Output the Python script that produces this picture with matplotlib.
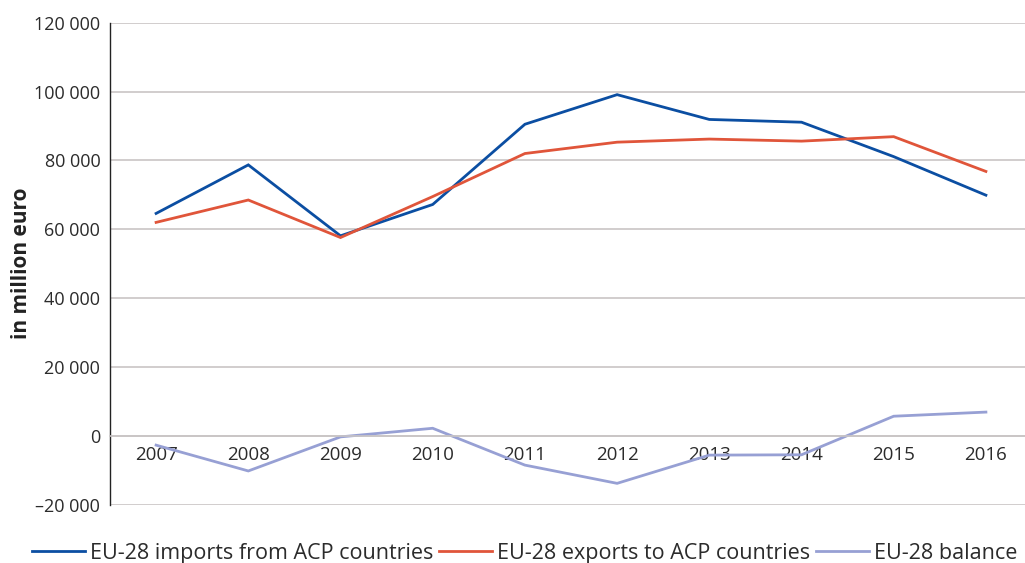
import matplotlib
matplotlib.use("Agg")
import matplotlib.pyplot as plt
from matplotlib.ticker import FuncFormatter

years = ["2007", "2008", "2009", "2010", "2011", "2012", "2013", "2014", "2015", "2016"]
imports = [64600, 78700, 58100, 67200, 90500, 99100, 91900, 91100, 81100, 69900]
exports = [62000, 68500, 57600, 69500, 82000, 85300, 86200, 85600, 86900, 76800]
balance = [-2700, -10200, -300, 2200, -8500, -13800, -5600, -5500, 5700, 6900]
series_names = ["EU-28 imports from ACP countries", "EU-28 exports to ACP countries", "EU-28 balance"]

plt.rcParams['font.family'] = ['Open Sans', 'DejaVu Sans']

fig = plt.figure(figsize=(10.25, 5.63), dpi=100)
ax = fig.add_axes([110/1025, 1 - 504.7/563, 922/1025, (504.7 - 22.7)/563])

x = list(range(len(years)))
colors = ["#0b4ea2", "#e0553a", "#97a0d4"]
for vals, c, name in zip([imports, exports, balance], colors, series_names):
    ax.plot(x, vals, color=c, lw=2.0, label=name, solid_joinstyle='miter')

ax.set_xlim(-0.5, len(years) - 0.5)
ax.set_ylim(-20000, 120000)
ax.set_yticks(range(-20000, 120001, 20000))

def fmt(v, pos):
    v = int(round(v))
    s = f"{abs(v):,}".replace(",", " ")
    return ("\u2013" if v < 0 else "") + s
ax.yaxis.set_major_formatter(FuncFormatter(fmt))
ax.set_xticks(x)
ax.set_xticklabels(years)

ax.grid(axis='y', color="#c9c5c5", lw=1.2)
ax.set_axisbelow(True)
for s in ["top", "right"]:
    ax.spines[s].set_visible(False)
ax.spines["left"].set_color("#222222")
ax.spines["left"].set_linewidth(1.0)
ax.spines["bottom"].set_position(("data", 0))
ax.spines["bottom"].set_color("#c9c5c5")
ax.spines["bottom"].set_linewidth(1.2)
ax.tick_params(axis='y', length=0, pad=7, labelsize=13, labelcolor="#2b2b2b")
ax.tick_params(axis='x', length=0, pad=7, labelsize=13.5, labelcolor="#2b2b2b")

ax.set_ylabel("in million euro", fontsize=15, fontweight='bold', color="#222222")
ax.yaxis.set_label_coords(-0.085, 0.5)

fig.legend(loc='lower center', bbox_to_anchor=(0.512, -0.036), ncol=3, frameon=False,
           fontsize=15.5, handlelength=2.45, columnspacing=0.25, handletextpad=0.25,
           labelcolor="#2b2b2b")

fig.savefig("out.png", dpi=100)
